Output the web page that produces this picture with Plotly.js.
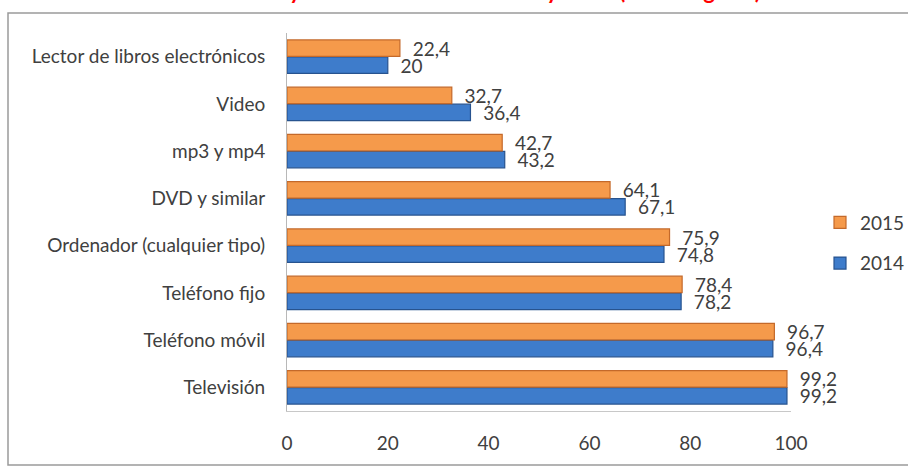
<!DOCTYPE html>
<html>
<head>
<meta charset="utf-8">
<script src="https://cdn.plot.ly/plotly-3.0.1.min.js"></script>
<style>
  html, body { margin: 0; padding: 0; background: #ffffff; }
  #chart { width: 908px; height: 468px; }
</style>
</head>
<body>
<div id="chart"></div>
<script>
// Categories listed bottom-to-top (Plotly puts the first category at the bottom)
var categories = [
  "Televisión",
  "Teléfono móvil",
  "Teléfono fijo",
  "Ordenador (cualquier tipo)",
  "DVD y similar",
  "mp3 y mp4",
  "Video",
  "Lector de libros electrónicos"
];
var values2014 = [99.2, 96.4, 78.2, 74.8, 67.1, 43.2, 36.4, 20];
var values2015 = [99.2, 96.7, 78.4, 75.9, 64.1, 42.7, 32.7, 22.4];
var seriesNames = ["2014", "2015"];
var xTicks = [0, 20, 40, 60, 80, 100];
var titleText = "<b>Dotación TIC y otros bienes. Años 2014 y 2015 (% de hogares)</b>";

function fmt(v) { return "\u00a0\u00a0" + String(v).replace(".", ","); }

var fontFam = "Lato, 'Open Sans', sans-serif";
var fs = 19;

var trace2014 = {
  type: "bar",
  orientation: "h",
  name: seriesNames[0],
  legendgroup: "a",
  legendrank: 2,
  y: categories,
  x: values2014,
  text: values2014.map(fmt),
  textposition: "outside",
  constraintext: "none",
  cliponaxis: false,
  textfont: { family: fontFam, size: fs, color: "#404040" },
  marker: { color: "#3E7CCB", line: { color: "#27538F", width: 1.2 } },
  hoverinfo: "x+y+name"
};
var trace2015 = {
  type: "bar",
  orientation: "h",
  name: seriesNames[1],
  legendgroup: "b",
  legendrank: 1,
  y: categories,
  x: values2015,
  text: values2015.map(fmt),
  textposition: "outside",
  constraintext: "none",
  cliponaxis: false,
  textfont: { family: fontFam, size: fs, color: "#404040" },
  marker: { color: "#F59A4B", line: { color: "#C4692A", width: 1.2 } },
  hoverinfo: "x+y+name"
};

var layout = {
  width: 908,
  height: 468,
  margin: { l: 287, r: 117, t: 33, b: 57, pad: 0, autoexpand: false },
  paper_bgcolor: "#ffffff",
  plot_bgcolor: "#ffffff",
  barmode: "group",
  bargap: 0.28,
  bargroupgap: 0.04,
  font: { family: fontFam, size: fs, color: "#404040" },
  showlegend: true,
  legend: {
    x: (820 - 287) / 504, xanchor: "left",
    y: (411 - 243) / 378, yanchor: "middle",
    traceorder: "grouped",
    tracegroupgap: 13,
    font: { family: fontFam, size: fs, color: "#404040" },
    bgcolor: "rgba(0,0,0,0)"
  },
  xaxis: {
    range: [0, 100],
    tickvals: xTicks,
    ticktext: xTicks.map(String),
    showgrid: false,
    zeroline: false,
    showline: true,
    linecolor: "#C8C8C8",
    linewidth: 1,
    ticks: "",
    ticklabelstandoff: 15,
    tickfont: { family: fontFam, size: fs, color: "#404040" },
    fixedrange: true
  },
  yaxis: {
    type: "category",
    categoryorder: "array",
    categoryarray: categories,
    showgrid: false,
    zeroline: false,
    showline: true,
    linecolor: "#B8B8B8",
    linewidth: 1,
    ticks: "",
    ticklabelstandoff: 17,
    tickfont: { family: fontFam, size: fs, color: "#404040" },
    fixedrange: true
  },
  shapes: [
    {
      type: "rect", xref: "paper", yref: "paper",
      x0: (8 - 287) / 504, x1: (930 - 287) / 504,
      y0: (411 - 465) / 378, y1: (411 - 13) / 378,
      line: { color: "#9A9A9A", width: 1.5 },
      fillcolor: "rgba(0,0,0,0)",
      layer: "below"
    }
  ],
  annotations: [
    {
      text: titleText,
      xref: "paper", yref: "paper",
      x: (458 - 287) / 504, xanchor: "center",
      y: (411 - 6) / 378, yanchor: "bottom",
      showarrow: false,
      font: { family: fontFam, size: 22, color: "#FF0000" }
    }
  ]
};

Plotly.newPlot("chart", [trace2014, trace2015], layout, { displayModeBar: false, staticPlot: true });
</script>
</body>
</html>
